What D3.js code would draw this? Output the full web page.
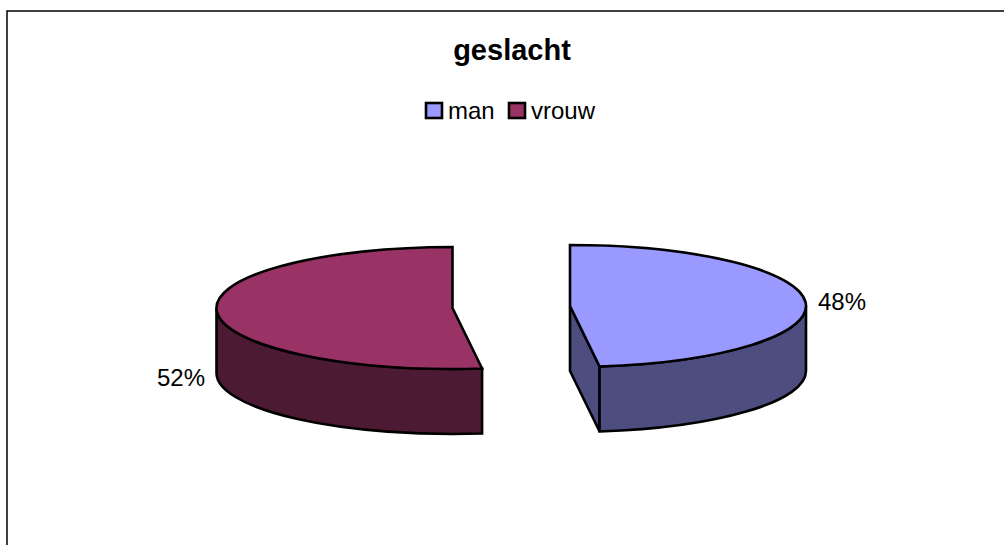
<!DOCTYPE html>
<html>
<head>
<meta charset="utf-8">
<title>geslacht</title>
<script src="https://d3js.org/d3.v7.min.js"></script>
<style>
  html, body { margin: 0; padding: 0; background: #fff; overflow: hidden; }
  text { font-family: "Liberation Sans", Arial, sans-serif; fill: #000; }
</style>
</head>
<body>
<div id="chart"></div>
<script>
var categories = ["man", "vrouw"];
var values = [48, 52];
var colors = ["#9999FF", "#993366"];
var sideColors = ["#4D4D80", "#4D1A33"];

var width = 1004, height = 545;
var rx = 236, ry = 61, depth = 65;
// each slice is pulled apart, so each has its own centre
var centers = [[570, 306], [452.5, 308]];
var labelPos = [[842, 310], [181, 386]];

var svg = d3.select("#chart").append("svg")
  .attr("width", width)
  .attr("height", height)
  .style("display", "block");

// chart frame, cut off by the right and bottom of the picture
svg.append("rect")
  .attr("x", 7).attr("y", 11)
  .attr("width", 1100).attr("height", 700)
  .attr("fill", "#fff").attr("stroke", "#000").attr("stroke-width", 1.5);

svg.append("text")
  .attr("x", 512).attr("y", 60)
  .attr("text-anchor", "middle")
  .style("font-size", "29px").style("font-weight", "bold")
  .text("geslacht");

// legend
var legendX = [426, 509], legendTextX = [448, 531];
categories.forEach(function (c, i) {
  svg.append("rect")
    .attr("x", legendX[i]).attr("y", 103)
    .attr("width", 16).attr("height", 15)
    .attr("fill", colors[i]).attr("stroke", "#000").attr("stroke-width", 2.6);
  svg.append("text")
    .attr("x", legendTextX[i]).attr("y", 119)
    .style("font-size", "24px")
    .text(c);
});

var pie = d3.pie().sort(null)(values);

// angle is clockwise from 12 o'clock, as in d3.pie
function px(c, a) { return c[0] + rx * Math.sin(a); }
function py(c, a) { return c[1] - ry * Math.cos(a); }

function topPath(c, a0, a1) {
  var large = a1 - a0 > Math.PI ? 1 : 0;
  return "M" + c[0] + "," + c[1] +
    "L" + px(c, a0) + "," + py(c, a0) +
    "A" + rx + "," + ry + " 0 " + large + " 1 " + px(c, a1) + "," + py(c, a1) + "Z";
}

// outer wall between two angles on the front half
function wallPath(c, a0, a1) {
  return "M" + px(c, a0) + "," + py(c, a0) +
    "A" + rx + "," + ry + " 0 0 1 " + px(c, a1) + "," + py(c, a1) +
    "L" + px(c, a1) + "," + (py(c, a1) + depth) +
    "A" + rx + "," + ry + " 0 0 0 " + px(c, a0) + "," + (py(c, a0) + depth) + "Z";
}

pie.forEach(function (d, i) {
  var c = centers[i];
  var g = svg.append("g")
    .attr("stroke", "#000")
    .attr("stroke-width", 2.6)
    .attr("stroke-linejoin", "miter");

  if (i === 0) {
    // cut face of the man slice, seen from the front
    var ex = px(c, d.endAngle), ey = py(c, d.endAngle);
    g.append("path")
      .attr("d", "M" + c[0] + "," + c[1] + "L" + ex + "," + ey +
        "L" + ex + "," + (ey + depth) + "L" + c[0] + "," + (c[1] + depth) + "Z")
      .attr("fill", sideColors[i]);
    g.append("path")
      .attr("d", wallPath(c, Math.PI / 2, d.endAngle))
      .attr("fill", sideColors[i]);
  } else {
    g.append("path")
      .attr("d", wallPath(c, d.startAngle, Math.PI * 1.5))
      .attr("fill", sideColors[i]);
  }

  g.append("path")
    .attr("d", topPath(c, d.startAngle, d.endAngle))
    .attr("fill", colors[i]);

  svg.append("text")
    .attr("x", labelPos[i][0]).attr("y", labelPos[i][1])
    .attr("text-anchor", "middle")
    .style("font-size", "24px")
    .text(values[i] + "%");
});
</script>
</body>
</html>
